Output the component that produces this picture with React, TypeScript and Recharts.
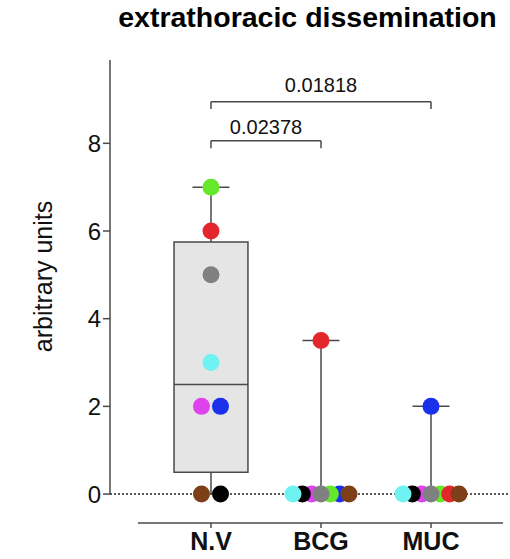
import {
  ScatterChart,
  Scatter,
  XAxis,
  YAxis,
  ReferenceLine,
  ReferenceArea,
  Label,
} from "recharts";

const FONT = "'Liberation Sans', Arial, Helvetica, sans-serif";

const GROUPS = ["N.V", "BCG", "MUC"];

// one animal per colour, same order in every value list
const ANIMALS = ["green", "red", "gray", "cyan", "magenta", "blue", "brown", "black"];
const ANIMAL_COLORS = ["#66e82a", "#e2262c", "#808080", "#6ef2f2", "#de42ec", "#1a30ea", "#7c3f17", "#000000"];

const NV_VALUES = [7, 6, 5, 3, 2, 2, 0, 0];
const BCG_VALUES = [0, 3.5, 0, 0, 0, 0, 0, 0];
const MUC_VALUES = [0, 0, 0, 0, 0, 2, 0, 0];
const GROUP_VALUES = [NV_VALUES, BCG_VALUES, MUC_VALUES];

const Y_TICKS = [0, 2, 4, 6, 8];

// Mann-Whitney p values against N.V
const P_LABELS = ["0.01818", "0.02378"];
const P_PAIRS = [
  [0, 2],
  [0, 1],
];

// layout
const X_DOMAIN: [number, number] = [-0.918, 2.718];
const Y_DOMAIN: [number, number] = [-0.66, 9.9];
const PX_PER_X = 110;
const BOX_HALF = 0.336;
const CAP_HALF = 0.168;
const BRACKET_Y = [8.95, 8.06];
const BRACKET_LEG = 0.17;
const LABEL_OFFSET = [10, 7];
const DOT_R = 8.5;

// left-to-right order used when several animals share a value
const TIE_ORDER = [
  ["brown", "black", "magenta", "blue"],
  ["cyan", "black", "magenta", "gray", "green", "blue", "red", "brown"],
  ["cyan", "black", "magenta", "gray", "green", "blue", "red", "brown"],
];
// paint order, later dots sit on top
const DRAW_ORDER = ["magenta", "black", "cyan", "blue", "green", "red", "gray", "brown"];

const AXIS_COLOR = "#4a4a4a";

function quantile(values: number[], p: number) {
  const s = [...values].sort((a, b) => a - b);
  const n = s.length;
  const pos = (n + 1) * p;
  const lo = Math.floor(pos);
  if (lo < 1) return s[0];
  if (lo >= n) return s[n - 1];
  return s[lo - 1] + (pos - lo) * (s[lo] - s[lo - 1]);
}

function jitter(gi: number, ai: number) {
  const vals = GROUP_VALUES[gi];
  const v = vals[ai];
  const ties = ANIMALS.filter((_, k) => vals[k] === v);
  if (ties.length < 2) return 0;
  const order = TIE_ORDER[gi];
  const ranked = [...ties].sort((a, b) => order.indexOf(a) - order.indexOf(b));
  const k = ranked.indexOf(ANIMALS[ai]);
  const step = ties.length <= 2 ? 19 : 56 / (ties.length - 1);
  return ((k - (ties.length - 1) / 2) * step) / PX_PER_X;
}

const stats = GROUP_VALUES.map((vals) => ({
  min: Math.min(...vals),
  q1: quantile(vals, 0.25),
  med: quantile(vals, 0.5),
  q3: quantile(vals, 0.75),
  max: Math.max(...vals),
}));

const Dot = (props: any) => (
  <circle cx={props.cx} cy={props.cy} r={DOT_R} fill={props.fill} />
);

const seg = (x1: number, y1: number, x2: number, y2: number) => [
  { x: x1, y: y1 },
  { x: x2, y: y2 },
];

export default function App() {
  return (
    <div
      style={{
        position: "absolute",
        left: 0,
        top: 0,
        width: 510,
        height: 559,
        background: "#fff",
        fontFamily: FONT,
      }}
    >
      <div
        style={{
          position: "absolute",
          left: 0,
          width: 615,
          top: 0,
          textAlign: "center",
          fontSize: 28.5,
          fontWeight: 700,
          color: "#000",
          lineHeight: "34px",
        }}
      >
        extrathoracic dissemination
      </div>
      <ScatterChart
        width={510}
        height={559}
        margin={{ top: 60, right: 0, bottom: 0, left: 0 }}
      >
        <XAxis
          type="number"
          dataKey="x"
          domain={X_DOMAIN}
          allowDataOverflow
          ticks={[0, 1, 2]}
          tickFormatter={(i: number) => GROUPS[i]}
          height={36}
          axisLine={false}
          tickLine={{ stroke: AXIS_COLOR, strokeWidth: 1.5 }}
          tickSize={5}
          tickMargin={4}
          tick={{ fill: "#111", fontSize: 25, fontWeight: 700, fontFamily: FONT }}
        />
        <YAxis
          type="number"
          dataKey="y"
          domain={Y_DOMAIN}
          allowDataOverflow
          ticks={Y_TICKS}
          width={110}
          axisLine={false}
          tickLine={{ stroke: AXIS_COLOR, strokeWidth: 1.5 }}
          tickSize={7}
          tickMargin={2}
          tick={{ fill: "#111", fontSize: 24, fontFamily: FONT }}
        >
          <Label
            content={() => (
              <text
                transform="translate(43,276.5) rotate(-90)"
                textAnchor="middle"
                dominantBaseline="central"
                fontSize={25}
                fontFamily={FONT}
                fill="#111"
              >
                arbitrary units
              </text>
            )}
          />
        </YAxis>

        {/* y axis stops at zero, x axis line is detached below */}
        <ReferenceLine
          segment={seg(X_DOMAIN[0], 0, X_DOMAIN[0], Y_DOMAIN[1])}
          stroke={AXIS_COLOR}
          strokeWidth={1.5}
          ifOverflow="visible"
        />
        <ReferenceLine
          segment={seg(-0.664, Y_DOMAIN[0], 2.655, Y_DOMAIN[0])}
          stroke={AXIS_COLOR}
          strokeWidth={1.5}
          ifOverflow="visible"
        />
        <ReferenceLine y={0} stroke="#222" strokeWidth={1.5} strokeDasharray="2 2" />

        {stats.map((s, i) =>
          s.q3 > s.q1 ? (
            <ReferenceArea
              key={`box-${i}`}
              x1={i - BOX_HALF}
              x2={i + BOX_HALF}
              y1={s.q1}
              y2={s.q3}
              fill="#e5e5e5"
              fillOpacity={1}
              stroke={AXIS_COLOR}
              strokeWidth={1.5}
            />
          ) : null
        )}
        {stats.map((s, i) =>
          s.q3 > s.q1 ? (
            <ReferenceLine
              key={`med-${i}`}
              segment={seg(i - BOX_HALF, s.med, i + BOX_HALF, s.med)}
              stroke={AXIS_COLOR}
              strokeWidth={1.5}
            />
          ) : null
        )}
        {stats.map((s, i) => (
          <ReferenceLine
            key={`wu-${i}`}
            segment={seg(i, s.q3, i, s.max)}
            stroke={AXIS_COLOR}
            strokeWidth={1.5}
          />
        ))}
        {stats.map((s, i) => (
          <ReferenceLine
            key={`wl-${i}`}
            segment={seg(i, s.min, i, s.q1)}
            stroke={AXIS_COLOR}
            strokeWidth={1.5}
          />
        ))}
        {stats.map((s, i) => (
          <ReferenceLine
            key={`cu-${i}`}
            segment={seg(i - CAP_HALF, s.max, i + CAP_HALF, s.max)}
            stroke={AXIS_COLOR}
            strokeWidth={1.5}
          />
        ))}

        {/* significance brackets */}
        {P_PAIRS.map(([a, b], k) => (
          <ReferenceLine
            key={`br-${k}`}
            segment={seg(a, BRACKET_Y[k], b, BRACKET_Y[k])}
            stroke={AXIS_COLOR}
            strokeWidth={1.5}
            label={{
              value: P_LABELS[k],
              position: "top",
              offset: LABEL_OFFSET[k],
              fill: "#111",
              fontSize: 20,
              fontFamily: FONT,
            }}
          />
        ))}
        {P_PAIRS.flatMap(([a, b], k) =>
          [a, b].map((x, j) => (
            <ReferenceLine
              key={`leg-${k}-${j}`}
              segment={seg(x, BRACKET_Y[k] - BRACKET_LEG, x, BRACKET_Y[k])}
              stroke={AXIS_COLOR}
              strokeWidth={1.5}
            />
          ))
        )}

        {DRAW_ORDER.map((name) => {
          const ai = ANIMALS.indexOf(name);
          const data = GROUPS.map((_, gi) => ({
            x: gi + jitter(gi, ai),
            y: GROUP_VALUES[gi][ai],
          }));
          return (
            <Scatter
              key={name}
              name={name}
              data={data}
              fill={ANIMAL_COLORS[ai]}
              shape={Dot}
              isAnimationActive={false}
            />
          );
        })}
      </ScatterChart>
    </div>
  );
}
